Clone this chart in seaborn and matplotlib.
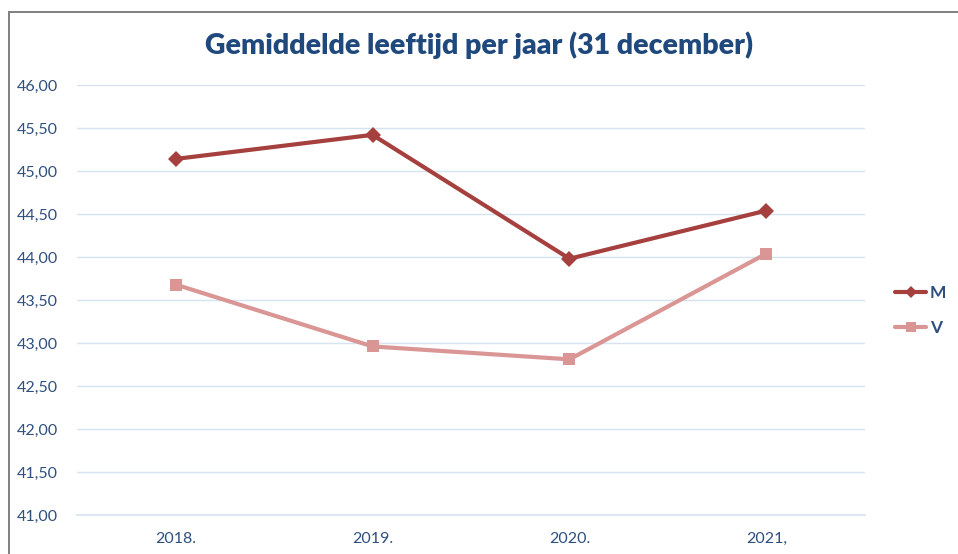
import numpy as np
import matplotlib.pyplot as plt
import seaborn as sns
import pandas as pd
from matplotlib.patches import Rectangle
from matplotlib.lines import Line2D
from matplotlib.ticker import FixedLocator, FuncFormatter

# Data
years = ['2018.', '2019.', '2020.', '2021,']
m_vals = [45.14, 45.42, 43.98, 44.54]
v_vals = [43.68, 42.96, 42.81, 44.04]

df = pd.DataFrame({
    'jaar': years * 2,
    'leeftijd': m_vals + v_vals,
    'geslacht': ['M'] * len(years) + ['V'] * len(years),
})

text_col = '#2F4F7F'
sns.set_style('white')
plt.rcParams['font.family'] = ['Lato', 'DejaVu Sans']

fig = plt.figure(figsize=(9.58, 5.54), dpi=100)
ax = fig.add_axes([0.0804, 0.0704, 0.8225, 0.7762])

# chart frame
fig.patches.append(Rectangle((9 / 958, -0.1), 1.2, 1 - 12 / 554 + 0.1,
                             transform=fig.transFigure, fill=False,
                             edgecolor='#7F7F7F', linewidth=1.4))

sns.lineplot(data=df, x='jaar', y='leeftijd', hue='geslacht', style='geslacht',
             palette={'M': '#A5403E', 'V': '#D99694'},
             markers={'M': 'D', 'V': 's'}, dashes=False,
             markersize=8, linewidth=3, markeredgewidth=0, ax=ax, legend=False)

ax.set_ylim(41, 46)
ax.set_xlim(-0.5, 3.5)
ax.set_yticks(np.arange(41, 46.01, 0.5))
ax.yaxis.set_major_formatter(FuncFormatter(lambda v, p: f'{v:.2f}'.replace('.', ',')))
ax.grid(axis='y', color='#D6E3F3', linewidth=1)
ax.set_axisbelow(True)

for s in ['top', 'right', 'left']:
    ax.spines[s].set_visible(False)
ax.spines['bottom'].set_color('#D6E3F3')
ax.spines['bottom'].set_linewidth(1.2)

ax.xaxis.set_minor_locator(FixedLocator(np.arange(-0.5, 3.6, 1)))
ax.tick_params(axis='x', which='major', length=0, pad=12, labelsize=11.5, labelcolor=text_col)
ax.tick_params(axis='x', which='minor', length=6, color='#D6E3F3', width=1.2)
ax.tick_params(axis='y', length=0, pad=14, labelsize=11.5, labelcolor=text_col)
ax.set_xlabel('')
ax.set_ylabel('')

fig.text(0.5, 0.918, 'Gemiddelde leeftijd per jaar (31 december)', ha='center', va='center',
         fontsize=20.5, fontweight='heavy', color='#1F497D')

# legend
handles = [Line2D([], [], color='#A5403E', marker='D', markersize=6, linewidth=3, markeredgewidth=0),
           Line2D([], [], color='#D99694', marker='s', markersize=7, linewidth=3, markeredgewidth=0)]
fig.legend(handles, ['M', 'V'], loc='center left', bbox_to_anchor=(0.918, 0.44),
           frameon=False, handlelength=1.8, handletextpad=0.2, labelspacing=1.1,
           prop={'size': 12.5, 'weight': 'bold'}, labelcolor=text_col)

fig.savefig('out.png', dpi=100)
